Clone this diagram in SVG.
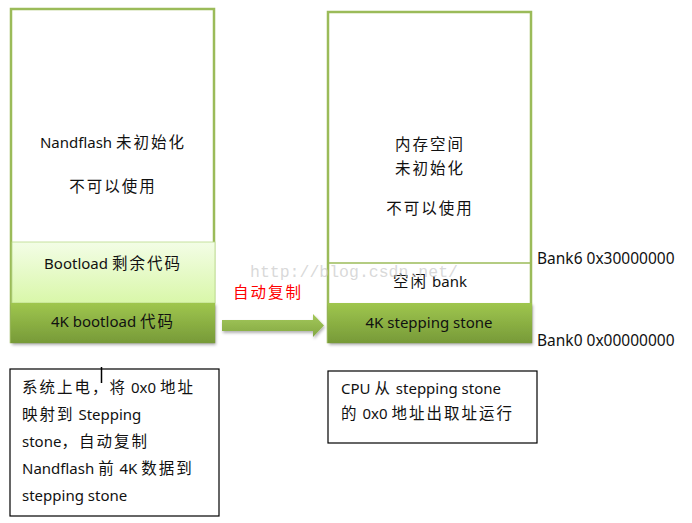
<svg xmlns="http://www.w3.org/2000/svg" width="692" height="523" viewBox="0 0 692 523">
<defs>
<linearGradient id="lightG" x1="0" y1="0" x2="0" y2="1">
<stop offset="0" stop-color="#f3fde6"/><stop offset="1" stop-color="#d9f7a9"/>
</linearGradient>
<linearGradient id="darkG" x1="0" y1="0" x2="0" y2="1">
<stop offset="0" stop-color="#9fc64e"/><stop offset="1" stop-color="#779a38"/>
</linearGradient>
<linearGradient id="arrowG" x1="0" y1="0" x2="0" y2="1">
<stop offset="0" stop-color="#a4c85a"/><stop offset="1" stop-color="#83a843"/>
</linearGradient>
<filter id="sh" x="-10%" y="-10%" width="120%" height="130%">
<feDropShadow dx="1" dy="2" stdDeviation="1.5" flood-color="#000" flood-opacity="0.3"/>
</filter>
</defs>
<style>
text{font-family:"Noto Sans","Noto Sans CJK SC",sans-serif;font-size:15px;fill:#111;}
.c{text-anchor:middle;}
.k{font-size:15.5px;letter-spacing:2px;}
.frame{fill:#fff;stroke:#9bbb59;stroke-width:2.5;}
.note{fill:#fff;stroke:#000;stroke-width:1.2;}
.sep{stroke:#9bbb59;stroke-width:1.5;fill:none;}
</style>
<g id="nandflash">
<rect class="frame" x="11" y="9" width="203" height="333"/>
<rect x="12" y="242" width="203" height="61" fill="url(#lightG)" stroke="#b9d98a" stroke-width="0.8"/>
<rect x="11" y="303" width="204" height="40" fill="url(#darkG)" filter="url(#sh)"/>
<text class="c" x="113" y="148">Nandflash <tspan class="k">未初始化</tspan></text>
<text class="c" x="113" y="192"><tspan class="k">不可以使用</tspan></text>
<text class="c" x="113" y="269">Bootload <tspan class="k">剩余代码</tspan></text>
<text class="c" x="113" y="327">4K bootload <tspan class="k">代码</tspan></text>
</g>
<g id="memory">
<rect class="frame" x="328" y="12" width="203" height="330"/>
<line class="sep" x1="328" y1="263" x2="531" y2="263"/>
<rect x="328" y="303" width="204" height="40" fill="url(#darkG)" filter="url(#sh)"/>
<text class="c" x="430" y="150"><tspan class="k">内存空间</tspan></text>
<text class="c" x="430" y="174"><tspan class="k">未初始化</tspan></text>
<text class="c" x="430" y="214"><tspan class="k">不可以使用</tspan></text>
<text class="c" x="430" y="287"><tspan class="k">空闲</tspan> bank</text>
<text class="c" x="429" y="328">4K stepping stone</text>
</g>
<g id="labels">
<text x="537" y="264" style="font-size:15.5px">Bank6 0x30000000</text>
<text x="537" y="346" style="font-size:15.5px">Bank0 0x00000000</text>
</g>
<g id="connectors">
<path d="M222,320 H313 V314 L324,325.5 L313,337 V331 H222 Z" fill="url(#arrowG)" filter="url(#sh)"/>
<text x="233" y="298" class="k" style="fill:#ff0000">自动复制</text>
</g>
<g id="note-left">
<rect class="note" x="10" y="369" width="209" height="147"/>
<line x1="101.5" y1="367" x2="101.5" y2="383" stroke="#000" stroke-width="1.5"/>
<text x="22" y="393"><tspan class="k">系统上电，将</tspan> 0x0 <tspan class="k">地址</tspan></text>
<text x="22" y="420"><tspan class="k">映射到</tspan> Stepping</text>
<text x="22" y="447">stone<tspan class="k">，自动复制</tspan></text>
<text x="22" y="474">Nandflash <tspan class="k">前</tspan> 4K <tspan class="k">数据到</tspan></text>
<text x="22" y="501">stepping stone</text>
</g>
<g id="note-right">
<rect class="note" x="328" y="371" width="209" height="72"/>
<text x="341" y="394">CPU <tspan class="k">从</tspan> stepping stone</text>
<text x="341" y="419"><tspan class="k">的</tspan> 0x0 <tspan class="k">地址出取址运行</tspan></text>
</g>
<text x="250" y="277" style="font-family:'Liberation Mono',monospace;font-size:16.5px;fill:#c8c8c8;fill-opacity:0.7">http://blog.csdn.net/</text>
</svg>
